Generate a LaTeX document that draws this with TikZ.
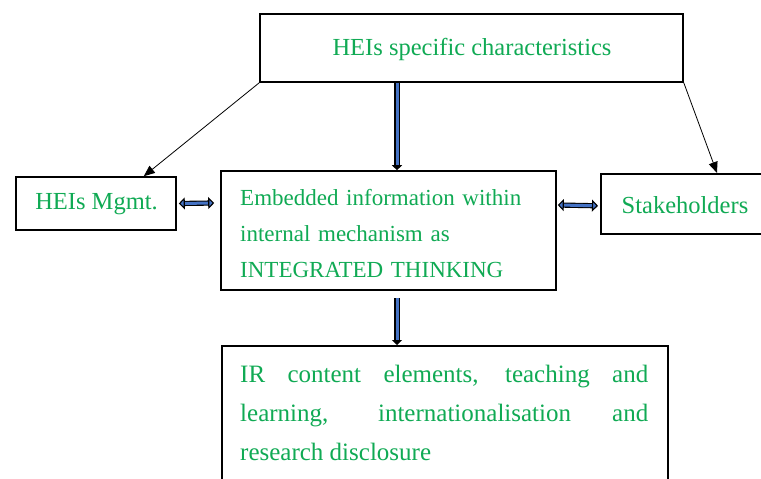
\documentclass[tikz,border=0pt]{standalone}
\usepackage{fontspec}
\setmainfont{Liberation Serif}
\usetikzlibrary{arrows.meta,calc}
\definecolor{txtgreen}{RGB}{16,170,84}
\definecolor{arrowblue}{RGB}{68,114,196}
\tikzset{
  boxnode/.style={draw=black, line width=1.6pt, rectangle, inner sep=0pt, fill=white},
  label25/.style={text=txtgreen, font=\fontsize{24.5}{30}\selectfont, inner sep=0pt},
  thinarrow/.style={draw=black, line width=0.8pt, -{Triangle[length=11pt,width=9pt]}},
  vblue/.style={draw=black, line width=1.2pt, double=arrowblue, double distance=3pt,
    -{Triangle[length=5pt,width=10pt,fill=black]}},
  hblue/.style={draw=black, line width=1.1pt, double=arrowblue, double distance=3pt,
    {Triangle[length=6pt,width=12pt,fill=arrowblue]}-{Triangle[length=6pt,width=12pt,fill=arrowblue]}},
}
\begin{document}
\begin{tikzpicture}[x=1pt,y=-1pt]
\useasboundingbox (0,0) rectangle (761,479);
\clip (0,0) rectangle (761,479);
\fill[white] (0,0) rectangle (761,479);
% boxes
\node[boxnode, minimum width=423pt, minimum height=68pt] (top) at (471.5,48) {};
\node[label25] (toptxt) at (472,49) {HEIs specific characteristics};
\node[boxnode, minimum width=160pt, minimum height=53pt] (mgmt) at (96,203.5) {};
\node[label25] (mgmttxt) at (96.5,204) {HEIs Mgmt.};
\node[boxnode, minimum width=335pt, minimum height=119pt] (mid) at (388.5,230.5) {};
\node[text=txtgreen, font=\fontsize{23}{36}\selectfont, inner sep=0pt, anchor=north west,
  text width=310pt, align=left] (midtxt) at (240,189.5)
  {Embedded information within\\internal mechanism as\\INTEGRATED THINKING};
\node[boxnode, minimum width=170pt, minimum height=60pt, anchor=north west] (stake) at (600,173) {};
\node[label25] (staketxt) at (685,205) {Stakeholders};
\node[boxnode, minimum width=446pt, minimum height=160pt, anchor=north west] (bot) at (221,345) {};
\node[text=txtgreen, font=\fontsize{25}{39}\selectfont, inner sep=0pt, anchor=north west,
  text width=408pt, align=justify] (bottxt) at (240,365)
  {IR content elements, teaching and\linebreak learning, internationalisation and\linebreak research disclosure};
% connectors
\draw[thinarrow] (top.south west) -- ([xshift=-33pt]mgmt.north east);
\draw[thinarrow] (top.south east) -- ([xshift=117pt]stake.north west);
\draw[vblue] ([xshift=-74.5pt]top.south) -- ([xshift=-74.5pt]top.south |- mid.north);
\draw[vblue] ([xshift=8.5pt,yshift=-7pt]mid.south) -- ([xshift=8.5pt]mid.south |- bot.north);
\draw[hblue] ([xshift=2pt]mgmt.east) -- ([xshift=-6pt,yshift=27.5pt]mid.west);
\draw[hblue] ([xshift=1pt,yshift=25.5pt]mid.east) -- ([xshift=-2pt,yshift=-2pt]stake.west);
\end{tikzpicture}
\end{document}
